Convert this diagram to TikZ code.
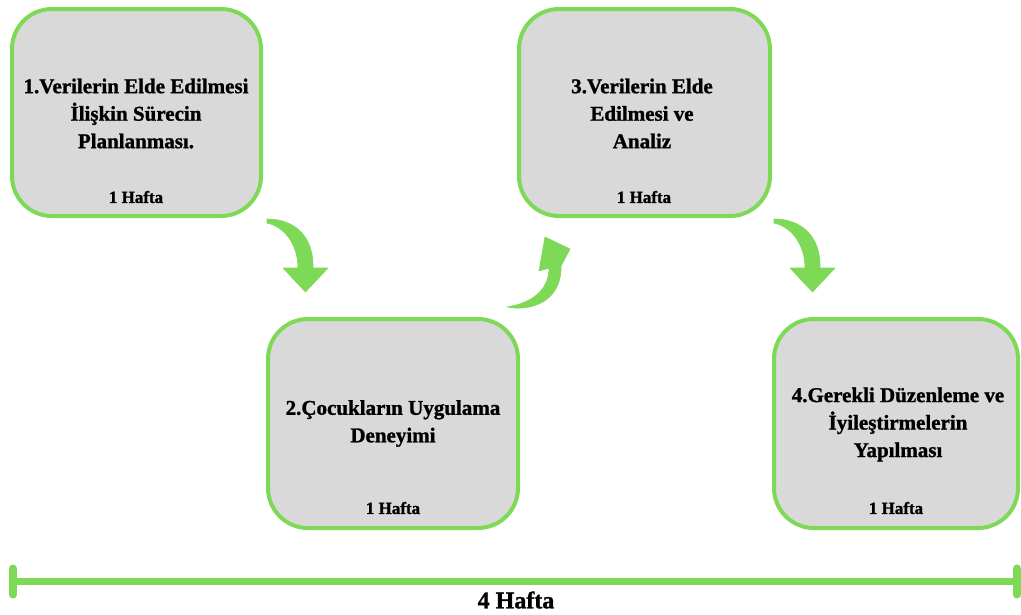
\documentclass[tikz,border=0pt]{standalone}
\usepackage{fontspec}
\setmainfont{Liberation Serif}[BoldFeatures={FakeBold=1.2}]
\definecolor{gr}{HTML}{7ED957}
\definecolor{boxfill}{HTML}{D9D9D9}
\tikzset{
  box/.style={draw=gr, fill=boxfill, line width=4pt, rounded corners=40pt, inner sep=0pt},
  title/.style={align=center, font=\fontsize{21}{27.5}\selectfont\bfseries, inner sep=0pt},
  week/.style={font=\fontsize{17}{18}\selectfont\bfseries, inner sep=0pt},
  arr/.style={fill=gr, draw=gr, line width=0.6pt, line join=round},
  downarrow/.pic={
    \fill[arr] (0,0) .. controls (29,0) and (47,19) .. (46,49) -- (61,49) -- (38.5,73) -- (16,49) -- (31,49) .. controls (31,26) and (18,8) .. (0,4) -- cycle;
  }
}
\begin{document}
\begin{tikzpicture}[x=1pt,y=-1pt]
\useasboundingbox (0,0) rectangle (1021,614);
% boxes
\node[box, minimum width=249pt, minimum height=207pt] (b1) at (136.5,112.5) {};
\node[box, minimum width=250pt, minimum height=209pt] (b2) at (393,423.5) {};
\node[box, minimum width=251pt, minimum height=207pt] (b3) at (644.5,112.5) {};
\node[box, minimum width=244pt, minimum height=209pt] (b4) at (896,423.5) {};
% texts
\node[title] (t1) at (136,113.5) {1.Verilerin Elde Edilmesi\\İlişkin Sürecin\\Planlanması.};
\node[week] (w1) at (136,197) {1 Hafta};
\node[title] (t2) at (393,423.5) {2.Çocukların Uygulama\\Deneyimi};
\node[week] (w2) at (393,508) {1 Hafta};
\node[title] (t3) at (642,113.5) {3.Verilerin Elde\\Edilmesi ve\\Analiz};
\node[week] (w3) at (644,197) {1 Hafta};
\node[title] (t4) at (898,424.5) {4.Gerekli Düzenleme ve\\İyileştirmelerin\\Yapılması};
\node[week] (w4) at (896,508) {1 Hafta};
% arrows
\pic at (267,219) {downarrow};
\pic at (774,219) {downarrow};
\fill[arr] (507,307) .. controls (533,312) and (562,300) .. (561,266) -- (570,249) -- (545,237) -- (539,271) -- (549,268) .. controls (549,290) and (532,303) .. (507,307) -- cycle;
% timeline
\coordinate (L) at (13,581.5);
\coordinate (R) at (1017,581.5);
\draw[gr, line width=7pt] (L) -- (R);
\draw[gr, line width=8pt, line cap=round] ([yshift=-13pt]L) -- ([yshift=13pt]L);
\draw[gr, line width=8pt, line cap=round] ([yshift=-13pt]R) -- ([yshift=13pt]R);
\node[font=\fontsize{24}{26}\selectfont\bfseries, inner sep=0pt] (total) at (516,600) {4 Hafta};
\end{tikzpicture}
\end{document}
